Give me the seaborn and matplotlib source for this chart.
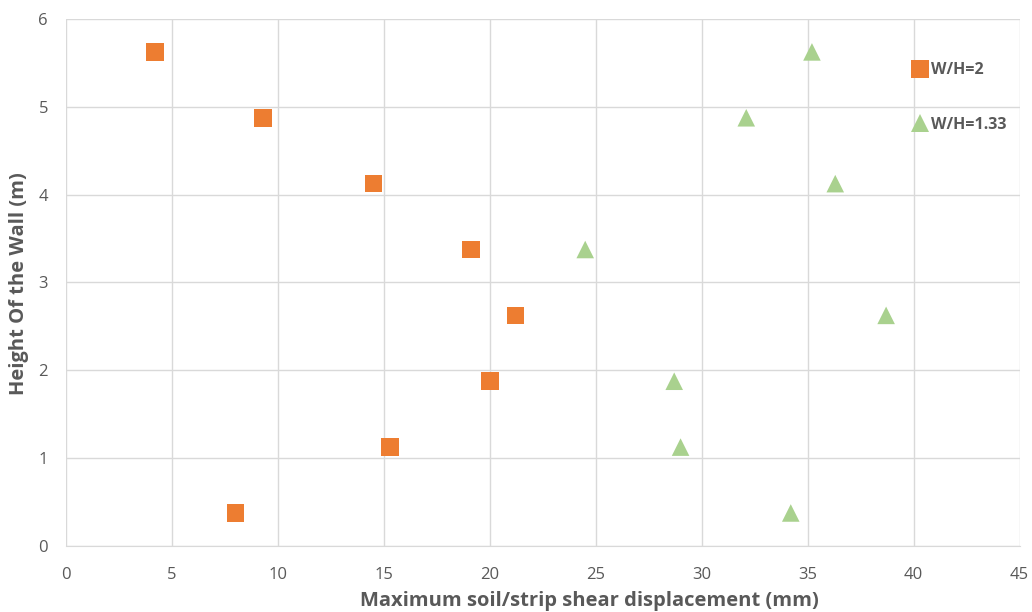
import pandas as pd
import matplotlib.pyplot as plt
import seaborn as sns

heights = [5.625, 4.875, 4.125, 3.375, 2.625, 1.875, 1.125, 0.375]
disp_wh2 = [4.2, 9.3, 14.5, 19.1, 21.2, 20.0, 15.3, 8.0]
disp_wh133 = [35.2, 32.1, 36.3, 24.5, 38.7, 28.7, 29.0, 34.2]

df = pd.concat([
    pd.DataFrame({'disp': disp_wh2, 'height': heights, 'case': 'W/H=2'}),
    pd.DataFrame({'disp': disp_wh133, 'height': heights, 'case': 'W/H=1.33'}),
])

sns.set_style("whitegrid")
plt.rcParams['font.family'] = ['Open Sans', 'DejaVu Sans']
txt = '#595959'

fig = plt.figure(figsize=(10.32, 6.12), dpi=100)
ax = fig.add_axes([0.064, 0.108, 0.924, 0.861])

sns.scatterplot(data=df, x='disp', y='height', hue='case', style='case',
                palette={'W/H=2': '#ED7D31', 'W/H=1.33': '#A9D18E'},
                markers={'W/H=2': 's', 'W/H=1.33': '^'},
                s=160, linewidth=0, ax=ax, legend=True)

ax.set_xlim(0, 45)
ax.set_ylim(0, 6)
ax.set_xticks(range(0, 46, 5))
ax.set_yticks(range(0, 7))
ax.grid(color='#D9D9D9', linewidth=1)
for side in ['top', 'right', 'left']:
    ax.spines[side].set_visible(False)
ax.spines['bottom'].set_color('#D9D9D9')
ax.tick_params(colors=txt, labelsize=12, length=0)
ax.tick_params(axis='x', pad=15)
ax.tick_params(axis='y', pad=13)

ax.set_xlabel('Maximum soil/strip shear displacement (mm)', fontsize=14.5,
              fontweight='bold', color=txt)
ax.xaxis.set_label_coords(0.549, -0.085)
ax.set_ylabel('Height Of the Wall (m)', fontsize=14.5, fontweight='bold',
              color=txt)
ax.yaxis.set_label_coords(-0.039, 0.497)

leg = ax.legend(loc='upper left', bbox_to_anchor=(0.864, 0.945), frameon=False,
                handletextpad=-0.35, labelspacing=2.4, markerscale=1.0,
                prop={'weight': 'bold', 'size': 11.5})
for t in leg.get_texts():
    t.set_color(txt)

plt.savefig("out.png", dpi=100)
